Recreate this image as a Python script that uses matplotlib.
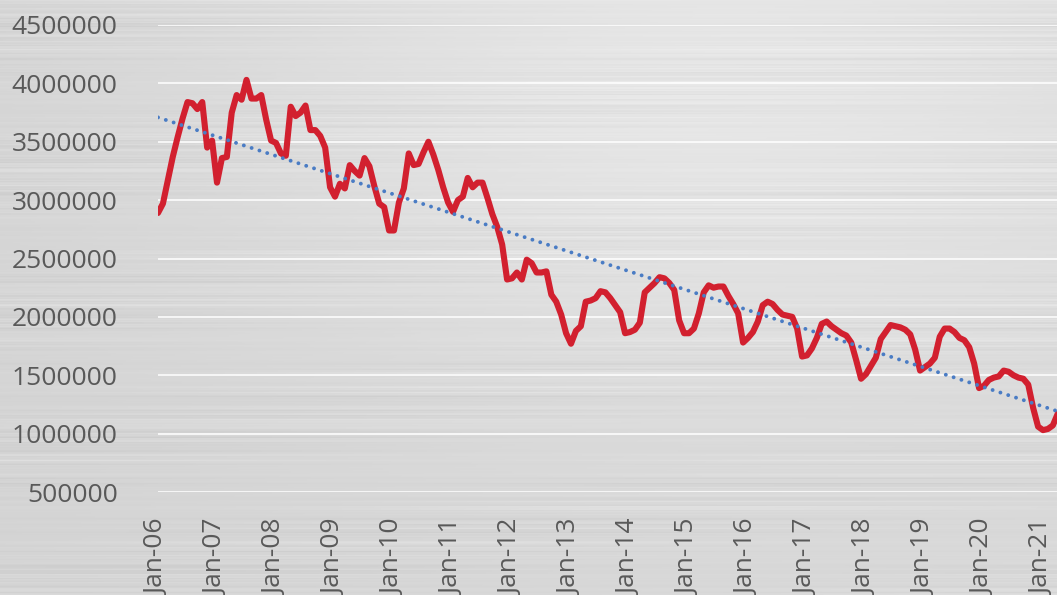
import matplotlib
matplotlib.use("Agg")
import matplotlib.pyplot as plt
import numpy as np
import pandas as pd

# monthly series, Jan-06 .. Apr-21 (millions)
values_m = [
    2.89, 2.97, 3.17, 3.37, 3.54, 3.70, 3.84, 3.83, 3.78, 3.84, 3.45, 3.51,
    3.15, 3.36, 3.37, 3.75, 3.90, 3.86, 4.03, 3.87, 3.87, 3.90, 3.69, 3.51,
    3.49, 3.40, 3.38, 3.80, 3.72, 3.75, 3.81, 3.60, 3.60, 3.55, 3.45, 3.11,
    3.03, 3.14, 3.10, 3.30, 3.25, 3.21, 3.36, 3.29, 3.12, 2.97, 2.94, 2.74,
    2.74, 2.98, 3.10, 3.40, 3.30, 3.31, 3.41, 3.50, 3.39, 3.26, 3.11, 2.98,
    2.90, 3.00, 3.03, 3.19, 3.11, 3.15, 3.15, 3.02, 2.88, 2.77, 2.62, 2.32,
    2.33, 2.38, 2.32, 2.49, 2.46, 2.38, 2.38, 2.39, 2.19, 2.13, 2.02, 1.86,
    1.77, 1.88, 1.92, 2.13, 2.14, 2.16, 2.22, 2.21, 2.16, 2.10, 2.04, 1.86,
    1.87, 1.89, 1.95, 2.21, 2.25, 2.29, 2.34, 2.33, 2.29, 2.23, 1.97, 1.86,
    1.86, 1.90, 2.03, 2.21, 2.27, 2.25, 2.26, 2.26, 2.18, 2.11, 2.03, 1.78,
    1.82, 1.87, 1.96, 2.10, 2.13, 2.11, 2.06, 2.02, 2.01, 2.00, 1.90, 1.66,
    1.67, 1.73, 1.82, 1.94, 1.96, 1.92, 1.89, 1.86, 1.84, 1.78, 1.63, 1.47,
    1.51, 1.58, 1.65, 1.81, 1.87, 1.93, 1.92, 1.91, 1.89, 1.85, 1.72, 1.54,
    1.57, 1.60, 1.65, 1.83, 1.90, 1.90, 1.87, 1.82, 1.80, 1.74, 1.60, 1.39,
    1.41, 1.46, 1.48, 1.49, 1.54, 1.53, 1.50, 1.48, 1.47, 1.42, 1.22, 1.06,
    1.03, 1.04, 1.07, 1.17,
]
values = np.array(values_m) * 1e6
months = pd.date_range("2006-01-01", periods=len(values), freq="MS")
x = np.arange(len(values))

tick_pos = x[months.month == 1]
tick_labels = [d.strftime("%b-%y") for d in months[months.month == 1]]
y_ticks = np.arange(500000, 4500001, 500000)

W, H = 1057, 595
fig = plt.figure(figsize=(W / 100, H / 100), dpi=100)

# brushed metal background (deterministic streaks)
bg = fig.add_axes([0, 0, 1, 1])
yy, xx = np.mgrid[0:H, 0:W].astype(float)
base = 0.83 + 0.06 * np.exp(-((xx - 700) / 500) ** 2 - ((yy - 80) / 320) ** 2)
base += 0.015 * (xx / W)
streak = (0.012 * np.sin(yy * 0.93 + 0.4) + 0.010 * np.sin(yy * 2.31 + 1.1)
          + 0.010 * np.sin(yy * 0.37 + 2.0) + 0.007 * np.sin(yy * 5.07 + 0.3)
          + 0.008 * np.sin(yy * 0.151 + 0.7) + 0.006 * np.sin(yy * 3.7 + 2.2))
mod = 0.6 + 0.4 * np.sin(xx / 170.0 + yy * 0.045)
tex = np.clip(base + streak * mod, 0, 1)
bg.imshow(tex, cmap="gray", vmin=0, vmax=1, aspect="auto", interpolation="bilinear")
bg.axis("off")

ax = fig.add_axes([158 / W, 1 - 492 / H, 1 - 158 / W, (492 - 25) / H])
ax.set_facecolor("none")

# linear trend
coef = np.polyfit(x, values, 1)
ax.plot(x, np.polyval(coef, x), color="#4A7CC4", lw=2.8,
        linestyle=(0, (0.01, 2.1)), dash_capstyle="round", zorder=3)
ax.plot(x, values, color="#D2202F", lw=4.4, solid_joinstyle="round",
        solid_capstyle="round", zorder=2)

ax.set_xlim(0, 182.85)
ax.set_ylim(500000, 4500000)
ax.set_yticks(y_ticks)
ax.set_yticklabels([str(v) for v in y_ticks])
ax.set_xticks(tick_pos)
ax.set_xticklabels(tick_labels, rotation=90)
ax.grid(axis="y", color="white", lw=1.3, alpha=0.85)
ax.set_axisbelow(True)
for s in ax.spines.values():
    s.set_visible(False)
ax.tick_params(axis="y", length=0, pad=29, labelsize=19, labelcolor="#595959")
ax.tick_params(axis="x", length=0, pad=20, labelsize=19, labelcolor="#595959")
for lab in ax.get_xticklabels() + ax.get_yticklabels():
    lab.set_fontfamily("Open Sans")

fig.savefig("out.png", dpi=100)
